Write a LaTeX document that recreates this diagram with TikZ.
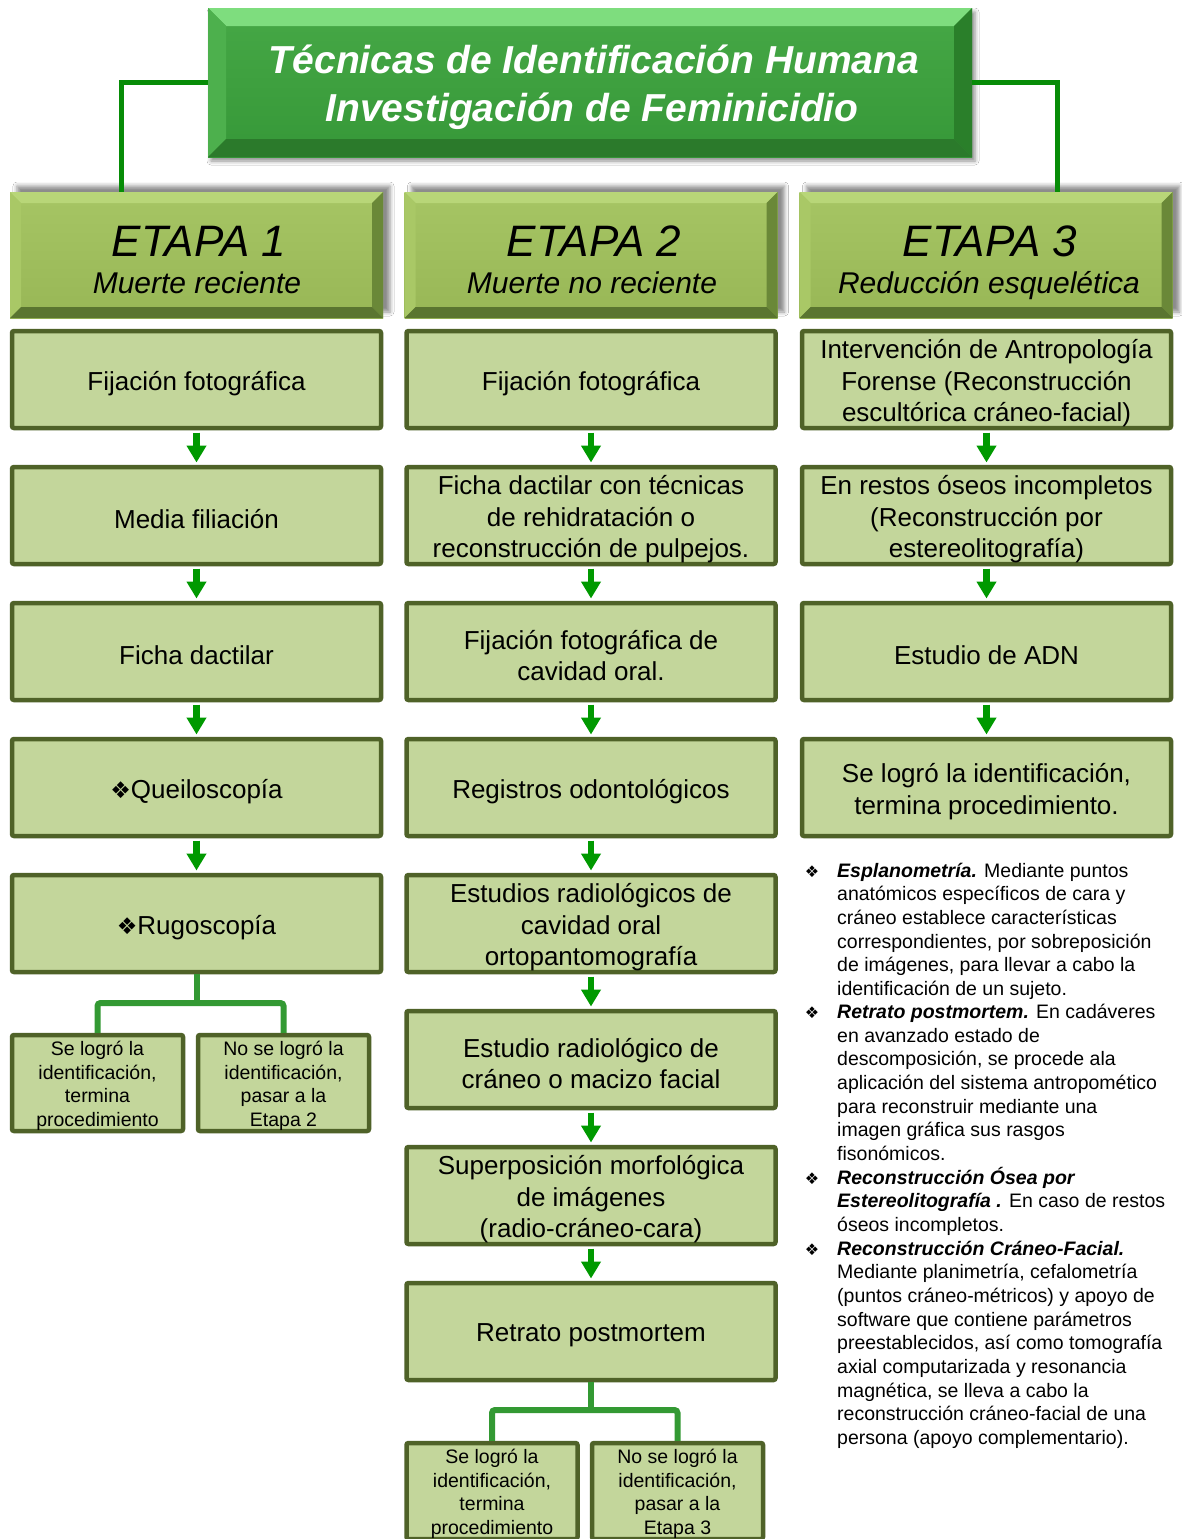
\documentclass[tikz,border=0pt]{standalone}
\usepackage{fontspec}
\setmainfont{Liberation Sans}
\newfontfamily\djv{DejaVu Sans}
\usetikzlibrary{arrows.meta,calc,shadows.blur}

\definecolor{boxfill}{HTML}{C3D69B}
\definecolor{boxline}{HTML}{4F6228}
\definecolor{arrowgreen}{HTML}{009900}
\definecolor{conngreen}{HTML}{339933}
\definecolor{topconn}{HTML}{078C07}
\definecolor{tface1}{HTML}{46A846}
\definecolor{tface2}{HTML}{369838}
\definecolor{ttop}{HTML}{7EDD7E}
\definecolor{tleft}{HTML}{4DB04D}
\definecolor{tright}{HTML}{2A7F2A}
\definecolor{tbot}{HTML}{2B7A2B}
\definecolor{hface1}{HTML}{A6C564}
\definecolor{hface2}{HTML}{98B756}
\definecolor{htop}{HTML}{B8D678}
\definecolor{hleft}{HTML}{A9C866}
\definecolor{hright}{HTML}{6A8838}
\definecolor{hbot}{HTML}{5A7530}

\tikzset{
  bevel/.style n args={5}{path picture={
    \fill[#2] (path picture bounding box.north west) -- (path picture bounding box.north east)
      -- ([xshift=-#1,yshift=-#1]path picture bounding box.north east)
      -- ([xshift=#1,yshift=-#1]path picture bounding box.north west) -- cycle;
    \fill[#3] (path picture bounding box.north west) -- ([xshift=#1,yshift=-#1]path picture bounding box.north west)
      -- ([xshift=#1,yshift=#1]path picture bounding box.south west) -- (path picture bounding box.south west) -- cycle;
    \fill[#4] (path picture bounding box.north east) -- ([xshift=-#1,yshift=-#1]path picture bounding box.north east)
      -- ([xshift=-#1,yshift=#1]path picture bounding box.south east) -- (path picture bounding box.south east) -- cycle;
    \fill[#5] (path picture bounding box.south west) -- ([xshift=#1,yshift=#1]path picture bounding box.south west)
      -- ([xshift=-#1,yshift=#1]path picture bounding box.south east) -- (path picture bounding box.south east) -- cycle;
  }},
  titleshape/.style={rectangle, inner sep=0pt, minimum width=764pt, minimum height=149pt,
    top color=tface1, bottom color=tface2, bevel={18pt}{ttop}{tleft}{tright}{tbot},
    blur shadow={shadow xshift=3pt, shadow yshift=-4pt, shadow blur radius=4pt, shadow opacity=45}},
  headshape/.style={rectangle, inner sep=0pt, minimum width=373pt, minimum height=126pt,
    top color=hface1, bottom color=hface2, bevel={11pt}{htop}{hleft}{hright}{hbot},
    blur shadow={shadow xshift=7pt, shadow yshift=6pt, shadow blur radius=4pt, shadow opacity=45}},
  titletext/.style={anchor=base, inner sep=0pt, text=white, font=\fontsize{39}{39}\selectfont\bfseries\itshape},
  headbig/.style={anchor=base, inner sep=0pt, font=\fontsize{44}{44}\selectfont\itshape},
  headsmall/.style={anchor=base, inner sep=0pt, font=\fontsize{30}{30}\selectfont\itshape},
  box/.style={rectangle, draw=boxline, line width=4.5pt, fill=boxfill, rounded corners=2pt,
    minimum width=369pt, minimum height=97pt, inner sep=0pt},
  smallbox/.style={box, minimum width=171pt, minimum height=96pt},
  boxtext/.style={inner sep=0pt, align=center, font=\fontsize{26}{31.5}\selectfont},
  smalltext/.style={inner sep=0pt, align=center, font=\fontsize{19.5}{23.5}\selectfont},
  arr/.style={-{Triangle[width=19pt,length=17pt]}, line width=6.5pt, draw=arrowgreen,
    shorten <=2.25pt, shorten >=2.25pt},
  conn/.style={draw=conngreen, line width=6pt, rounded corners=3pt},
  topline/.style={draw=topconn, line width=5pt},
  rtext/.style={anchor=base west, inner sep=0pt, font=\fontsize{19.5}{23.5}\selectfont},
  bul/.style={anchor=base, inner sep=0pt, font=\djv\fontsize{16}{16}\selectfont}
}

\newcommand\rline[3]{\node[rtext] (#1) at (837,#2) {#3};}
\newcommand\rbul[2]{\node[bul] (#1) at (812,#2) {❖};}
% box with its text set slightly below the centre, as in the reference
\newcommand\bx[4]{\node[box] (#1) at (#2,#3) {};
  \node[boxtext] (#1t) at ([yshift=-4pt]#1.center) {#4};}
\newcommand\sbx[4]{\node[smallbox] (#1) at (#2,#3) {};
  \node[smalltext] (#1t) at ([yshift=-3pt]#1.center) {#4};}

\begin{document}
\begin{tikzpicture}[x=1pt,y=-1pt]
\useasboundingbox[fill=white] (0,0) rectangle (1182,1539);

% title
\node[titleshape] (t) at (590,82.5) {};
\node[titletext] (tt1) at (594,73) {Técnicas de Identificación Humana};
\node[titletext] (tt2) at (592,121) {Investigación de Feminicidio};

% headers
\node[headshape] (h1) at (196.5,255) {};
\node[headshape] (h2) at (591,255) {};
\node[headshape] (h3) at (986,255) {};

\draw[topline] (t.west) -| ($(h1.north west)!0.30!(h1.north east)$);
\draw[topline] (t.east) -| ($(h3.north west)!0.6925!(h3.north east)$);

\node[headbig] (h1a) at (199,256) {ETAPA 1};
\node[headsmall] (h1b) at (197,293) {Muerte reciente};
\node[headbig] (h2a) at (594,256) {ETAPA 2};
\node[headsmall] (h2b) at (592,293) {Muerte no reciente};
\node[headbig] (h3a) at (990,256) {ETAPA 3};
\node[headsmall] (h3b) at (989,293) {Reducción esquelética};

% column 1
\bx{a1}{196.5}{379.5}{Fijación fotográfica}
\bx{a2}{196.5}{515.5}{Media filiación}
\bx{a3}{196.5}{651.5}{Ficha dactilar}
\bx{a4}{196.5}{787.5}{{\djv\fontsize{23}{23}\selectfont ❖}Queiloscopía}
\bx{a5}{196.5}{923.5}{{\djv\fontsize{23}{23}\selectfont ❖}Rugoscopía}

% column 2
\bx{b1}{591}{379.5}{Fijación fotográfica}
\bx{b2}{591}{515.5}{Ficha dactilar con técnicas\\de rehidratación o\\reconstrucción de pulpejos.}
\bx{b3}{591}{651.5}{Fijación fotográfica de\\cavidad oral.}
\bx{b4}{591}{787.5}{Registros odontológicos}
\bx{b5}{591}{923.5}{Estudios radiológicos de\\cavidad oral\\ortopantomografía}
\bx{b6}{591}{1059.5}{Estudio radiológico de\\cráneo o macizo facial}
\bx{b7}{591}{1195.5}{Superposición morfológica\\de imágenes\\(radio-cráneo-cara)}
\bx{b8}{591}{1331.5}{Retrato postmortem}

% column 3
\bx{c1}{986.5}{379.5}{Intervención de Antropología\\Forense (Reconstrucción\\escultórica cráneo-facial)}
\bx{c2}{986.5}{515.5}{En restos óseos incompletos\\(Reconstrucción por\\estereolitografía)}
\bx{c3}{986.5}{651.5}{Estudio de ADN}
\bx{c4}{986.5}{787.5}{Se logró la identificación,\\termina procedimiento.}

% arrows
\foreach \p/\q in {a1/a2,a2/a3,a3/a4,a4/a5,b1/b2,b2/b3,b3/b4,b4/b5,b5/b6,b6/b7,b7/b8,c1/c2,c2/c3,c3/c4}
  \draw[arr] (\p.south) -- (\q.north);

% outcome boxes
\coordinate (j1) at (196.5,1003);
\coordinate (j2) at (591,1410);
\draw[conn] (a5.south) -- (j1);
\draw[conn] (b8.south) -- (j2);
\sbx{s1}{97.5}{1083}{Se logró la\\identificación,\\termina\\procedimiento}
\sbx{s2}{283.5}{1083}{No se logró la\\identificación,\\pasar a la\\Etapa 2}
\sbx{s3}{492}{1491}{Se logró la\\identificación,\\termina\\procedimiento}
\sbx{s4}{677.5}{1491}{No se logró la\\identificación,\\pasar a la\\Etapa 3}
\draw[conn] (s1.north) |- (j1) -| (s2.north);
\draw[conn] (s3.north) |- (j2) -| (s4.north);

% right-hand notes
\rbul{k1}{877}
\rbul{k2}{1018.4}
\rbul{k3}{1184.1}
\rbul{k4}{1255.1}
\rline{r1}{877}{\textbf{\textit{Esplanometría.}} Mediante puntos}
\rline{r2}{900.7}{anatómicos específicos de cara y}
\rline{r3}{924.3}{cráneo establece características}
\rline{r4}{948.0}{correspondientes, por sobreposición}
\rline{r5}{971.7}{de imágenes, para llevar a cabo la}
\rline{r6}{995.4}{identificación de un sujeto.}
\rline{r7}{1018.4}{\textbf{\textit{Retrato postmortem.}} En cadáveres}
\rline{r8}{1042.1}{en avanzado estado de}
\rline{r9}{1065.8}{descomposición, se procede ala}
\rline{r10}{1089.4}{aplicación del sistema antropomético}
\rline{r11}{1113.1}{para reconstruir mediante una}
\rline{r12}{1136.8}{imagen gráfica sus rasgos}
\rline{r13}{1160.4}{fisonómicos.}
\rline{r14}{1184.1}{\textbf{\textit{Reconstrucción Ósea por}}}
\rline{r15}{1207.8}{\textbf{\textit{Estereolitografía .}} En caso de restos}
\rline{r16}{1231.5}{óseos incompletos.}
\rline{r17}{1255.1}{\textbf{\textit{Reconstrucción Cráneo-Facial.}}}
\rline{r18}{1278.8}{Mediante planimetría, cefalometría}
\rline{r19}{1302.5}{(puntos cráneo-métricos) y apoyo de}
\rline{r20}{1326.1}{software que contiene parámetros}
\rline{r21}{1349.8}{preestablecidos, así como tomografía}
\rline{r22}{1373.5}{axial computarizada y resonancia}
\rline{r23}{1397.1}{magnética, se lleva a cabo la}
\rline{r24}{1420.8}{reconstrucción cráneo-facial de una}
\rline{r25}{1444.5}{persona (apoyo complementario).}
\end{tikzpicture}
\end{document}
